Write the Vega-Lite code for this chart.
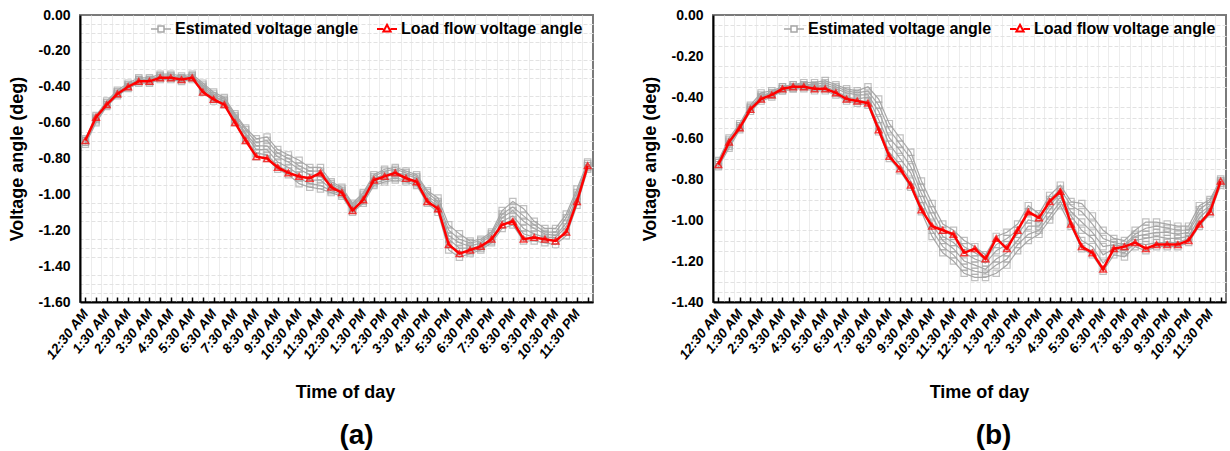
{
  "$schema": "https://vega.github.io/schema/vega-lite/v6.json",
  "background": "white",
  "padding": {"left": 7, "top": 7, "right": 2, "bottom": 2},
  "config": {
    "font": "Liberation Sans",
    "view": {"stroke": "#7a7a7a", "strokeWidth": 2},
    "axis": {"labelColor": "black", "titleColor": "black"},
    "legend": {
      "orient": "none",
      "legendX": 73,
      "legendY": 6,
      "direction": "horizontal",
      "title": null,
      "labelFontSize": 16,
      "labelFontWeight": "bold",
      "labelColor": "black",
      "labelLimit": 400,
      "symbolSize": 400,
      "columnPadding": 14,
      "labelOffset": 6
    }
  },
  "datasets": {
    "a_lf": [
      {"h":0.5,"v":-0.70},{"h":1,"v":-0.57},{"h":1.5,"v":-0.50},{"h":2,"v":-0.44},{"h":2.5,"v":-0.40},{"h":3,"v":-0.37},{"h":3.5,"v":-0.37},{"h":4,"v":-0.35},
      {"h":4.5,"v":-0.35},{"h":5,"v":-0.36},{"h":5.5,"v":-0.35},{"h":6,"v":-0.43},{"h":6.5,"v":-0.47},{"h":7,"v":-0.50},{"h":7.5,"v":-0.60},{"h":8,"v":-0.70},
      {"h":8.5,"v":-0.79},{"h":9,"v":-0.80},{"h":9.5,"v":-0.85},{"h":10,"v":-0.88},{"h":10.5,"v":-0.90},{"h":11,"v":-0.91},{"h":11.5,"v":-0.88},{"h":12,"v":-0.96},
      {"h":12.5,"v":-0.99},{"h":13,"v":-1.09},{"h":13.5,"v":-1.03},{"h":14,"v":-0.92},{"h":14.5,"v":-0.90},{"h":15,"v":-0.88},{"h":15.5,"v":-0.91},{"h":16,"v":-0.93},
      {"h":16.5,"v":-1.04},{"h":17,"v":-1.08},{"h":17.5,"v":-1.28},{"h":18,"v":-1.33},{"h":18.5,"v":-1.31},{"h":19,"v":-1.29},{"h":19.5,"v":-1.25},{"h":20,"v":-1.17},
      {"h":20.5,"v":-1.15},{"h":21,"v":-1.25},{"h":21.5,"v":-1.24},{"h":22,"v":-1.25},{"h":22.5,"v":-1.26},{"h":23,"v":-1.21},{"h":23.5,"v":-1.04},{"h":24,"v":-0.84}
    ],
    "a_est": [
      {"h":0.5,"s":1,"v":-0.72},{"h":1,"s":1,"v":-0.60},{"h":1.5,"s":1,"v":-0.51},{"h":2,"s":1,"v":-0.45},{"h":2.5,"s":1,"v":-0.41},{"h":3,"s":1,"v":-0.38},{"h":3.5,"s":1,"v":-0.38},{"h":4,"s":1,"v":-0.36},
      {"h":4.5,"s":1,"v":-0.36},{"h":5,"s":1,"v":-0.37},{"h":5.5,"s":1,"v":-0.36},{"h":6,"s":1,"v":-0.43},{"h":6.5,"s":1,"v":-0.48},{"h":7,"s":1,"v":-0.50},{"h":7.5,"s":1,"v":-0.60},{"h":8,"s":1,"v":-0.70},
      {"h":8.5,"s":1,"v":-0.79},{"h":9,"s":1,"v":-0.80},{"h":9.5,"s":1,"v":-0.86},{"h":10,"s":1,"v":-0.89},{"h":10.5,"s":1,"v":-0.94},{"h":11,"s":1,"v":-0.96},{"h":11.5,"s":1,"v":-0.97},{"h":12,"s":1,"v":-0.99},
      {"h":12.5,"s":1,"v":-1.01},{"h":13,"s":1,"v":-1.10},{"h":13.5,"s":1,"v":-1.05},{"h":14,"s":1,"v":-0.95},{"h":14.5,"s":1,"v":-0.93},{"h":15,"s":1,"v":-0.92},{"h":15.5,"s":1,"v":-0.93},{"h":16,"s":1,"v":-0.95},
      {"h":16.5,"s":1,"v":-1.05},{"h":17,"s":1,"v":-1.10},{"h":17.5,"s":1,"v":-1.31},{"h":18,"s":1,"v":-1.35},{"h":18.5,"s":1,"v":-1.33},{"h":19,"s":1,"v":-1.31},{"h":19.5,"s":1,"v":-1.27},{"h":20,"s":1,"v":-1.19},
      {"h":20.5,"s":1,"v":-1.17},{"h":21,"s":1,"v":-1.26},{"h":21.5,"s":1,"v":-1.26},{"h":22,"s":1,"v":-1.27},{"h":22.5,"s":1,"v":-1.28},{"h":23,"s":1,"v":-1.23},{"h":23.5,"s":1,"v":-1.06},{"h":24,"s":1,"v":-0.86},

      {"h":0.5,"s":2,"v":-0.71},{"h":1,"s":2,"v":-0.59},{"h":1.5,"s":2,"v":-0.50},{"h":2,"s":2,"v":-0.44},{"h":2.5,"s":2,"v":-0.40},{"h":3,"s":2,"v":-0.37},{"h":3.5,"s":2,"v":-0.37},{"h":4,"s":2,"v":-0.35},
      {"h":4.5,"s":2,"v":-0.35},{"h":5,"s":2,"v":-0.36},{"h":5.5,"s":2,"v":-0.35},{"h":6,"s":2,"v":-0.42},{"h":6.5,"s":2,"v":-0.47},{"h":7,"s":2,"v":-0.49},{"h":7.5,"s":2,"v":-0.59},{"h":8,"s":2,"v":-0.69},
      {"h":8.5,"s":2,"v":-0.77},{"h":9,"s":2,"v":-0.78},{"h":9.5,"s":2,"v":-0.84},{"h":10,"s":2,"v":-0.87},{"h":10.5,"s":2,"v":-0.91},{"h":11,"s":2,"v":-0.94},{"h":11.5,"s":2,"v":-0.95},{"h":12,"s":2,"v":-0.98},
      {"h":12.5,"s":2,"v":-1.00},{"h":13,"s":2,"v":-1.09},{"h":13.5,"s":2,"v":-1.04},{"h":14,"s":2,"v":-0.94},{"h":14.5,"s":2,"v":-0.92},{"h":15,"s":2,"v":-0.91},{"h":15.5,"s":2,"v":-0.92},{"h":16,"s":2,"v":-0.94},
      {"h":16.5,"s":2,"v":-1.04},{"h":17,"s":2,"v":-1.08},{"h":17.5,"s":2,"v":-1.28},{"h":18,"s":2,"v":-1.32},{"h":18.5,"s":2,"v":-1.32},{"h":19,"s":2,"v":-1.30},{"h":19.5,"s":2,"v":-1.26},{"h":20,"s":2,"v":-1.17},
      {"h":20.5,"s":2,"v":-1.14},{"h":21,"s":2,"v":-1.22},{"h":21.5,"s":2,"v":-1.24},{"h":22,"s":2,"v":-1.25},{"h":22.5,"s":2,"v":-1.26},{"h":23,"s":2,"v":-1.21},{"h":23.5,"s":2,"v":-1.04},{"h":24,"s":2,"v":-0.85},

      {"h":0.5,"s":3,"v":-0.71},{"h":1,"s":3,"v":-0.58},{"h":1.5,"s":3,"v":-0.50},{"h":2,"s":3,"v":-0.44},{"h":2.5,"s":3,"v":-0.40},{"h":3,"s":3,"v":-0.37},{"h":3.5,"s":3,"v":-0.37},{"h":4,"s":3,"v":-0.35},
      {"h":4.5,"s":3,"v":-0.35},{"h":5,"s":3,"v":-0.36},{"h":5.5,"s":3,"v":-0.35},{"h":6,"s":3,"v":-0.41},{"h":6.5,"s":3,"v":-0.46},{"h":7,"s":3,"v":-0.48},{"h":7.5,"s":3,"v":-0.58},{"h":8,"s":3,"v":-0.67},
      {"h":8.5,"s":3,"v":-0.75},{"h":9,"s":3,"v":-0.75},{"h":9.5,"s":3,"v":-0.82},{"h":10,"s":3,"v":-0.85},{"h":10.5,"s":3,"v":-0.89},{"h":11,"s":3,"v":-0.92},{"h":11.5,"s":3,"v":-0.92},{"h":12,"s":3,"v":-0.97},
      {"h":12.5,"s":3,"v":-0.99},{"h":13,"s":3,"v":-1.08},{"h":13.5,"s":3,"v":-1.03},{"h":14,"s":3,"v":-0.93},{"h":14.5,"s":3,"v":-0.90},{"h":15,"s":3,"v":-0.89},{"h":15.5,"s":3,"v":-0.91},{"h":16,"s":3,"v":-0.93},
      {"h":16.5,"s":3,"v":-1.02},{"h":17,"s":3,"v":-1.07},{"h":17.5,"s":3,"v":-1.25},{"h":18,"s":3,"v":-1.30},{"h":18.5,"s":3,"v":-1.30},{"h":19,"s":3,"v":-1.29},{"h":19.5,"s":3,"v":-1.25},{"h":20,"s":3,"v":-1.15},
      {"h":20.5,"s":3,"v":-1.12},{"h":21,"s":3,"v":-1.19},{"h":21.5,"s":3,"v":-1.22},{"h":22,"s":3,"v":-1.24},{"h":22.5,"s":3,"v":-1.24},{"h":23,"s":3,"v":-1.18},{"h":23.5,"s":3,"v":-1.02},{"h":24,"s":3,"v":-0.84},

      {"h":0.5,"s":4,"v":-0.70},{"h":1,"s":4,"v":-0.58},{"h":1.5,"s":4,"v":-0.49},{"h":2,"s":4,"v":-0.43},{"h":2.5,"s":4,"v":-0.39},{"h":3,"s":4,"v":-0.36},{"h":3.5,"s":4,"v":-0.36},{"h":4,"s":4,"v":-0.34},
      {"h":4.5,"s":4,"v":-0.34},{"h":5,"s":4,"v":-0.35},{"h":5.5,"s":4,"v":-0.34},{"h":6,"s":4,"v":-0.40},{"h":6.5,"s":4,"v":-0.45},{"h":7,"s":4,"v":-0.48},{"h":7.5,"s":4,"v":-0.57},{"h":8,"s":4,"v":-0.66},
      {"h":8.5,"s":4,"v":-0.73},{"h":9,"s":4,"v":-0.73},{"h":9.5,"s":4,"v":-0.79},{"h":10,"s":4,"v":-0.82},{"h":10.5,"s":4,"v":-0.86},{"h":11,"s":4,"v":-0.89},{"h":11.5,"s":4,"v":-0.90},{"h":12,"s":4,"v":-0.95},
      {"h":12.5,"s":4,"v":-0.98},{"h":13,"s":4,"v":-1.07},{"h":13.5,"s":4,"v":-1.01},{"h":14,"s":4,"v":-0.91},{"h":14.5,"s":4,"v":-0.89},{"h":15,"s":4,"v":-0.88},{"h":15.5,"s":4,"v":-0.89},{"h":16,"s":4,"v":-0.91},
      {"h":16.5,"s":4,"v":-1.01},{"h":17,"s":4,"v":-1.05},{"h":17.5,"s":4,"v":-1.23},{"h":18,"s":4,"v":-1.27},{"h":18.5,"s":4,"v":-1.29},{"h":19,"s":4,"v":-1.27},{"h":19.5,"s":4,"v":-1.23},{"h":20,"s":4,"v":-1.13},
      {"h":20.5,"s":4,"v":-1.09},{"h":21,"s":4,"v":-1.15},{"h":21.5,"s":4,"v":-1.19},{"h":22,"s":4,"v":-1.22},{"h":22.5,"s":4,"v":-1.23},{"h":23,"s":4,"v":-1.16},{"h":23.5,"s":4,"v":-1.01},{"h":24,"s":4,"v":-0.84},

      {"h":0.5,"s":5,"v":-0.70},{"h":1,"s":5,"v":-0.57},{"h":1.5,"s":5,"v":-0.49},{"h":2,"s":5,"v":-0.43},{"h":2.5,"s":5,"v":-0.39},{"h":3,"s":5,"v":-0.36},{"h":3.5,"s":5,"v":-0.36},{"h":4,"s":5,"v":-0.34},
      {"h":4.5,"s":5,"v":-0.34},{"h":5,"s":5,"v":-0.35},{"h":5.5,"s":5,"v":-0.34},{"h":6,"s":5,"v":-0.39},{"h":6.5,"s":5,"v":-0.44},{"h":7,"s":5,"v":-0.47},{"h":7.5,"s":5,"v":-0.56},{"h":8,"s":5,"v":-0.64},
      {"h":8.5,"s":5,"v":-0.71},{"h":9,"s":5,"v":-0.70},{"h":9.5,"s":5,"v":-0.77},{"h":10,"s":5,"v":-0.80},{"h":10.5,"s":5,"v":-0.84},{"h":11,"s":5,"v":-0.87},{"h":11.5,"s":5,"v":-0.87},{"h":12,"s":5,"v":-0.94},
      {"h":12.5,"s":5,"v":-0.97},{"h":13,"s":5,"v":-1.06},{"h":13.5,"s":5,"v":-1.00},{"h":14,"s":5,"v":-0.90},{"h":14.5,"s":5,"v":-0.87},{"h":15,"s":5,"v":-0.86},{"h":15.5,"s":5,"v":-0.88},{"h":16,"s":5,"v":-0.90},
      {"h":16.5,"s":5,"v":-0.99},{"h":17,"s":5,"v":-1.04},{"h":17.5,"s":5,"v":-1.20},{"h":18,"s":5,"v":-1.25},{"h":18.5,"s":5,"v":-1.27},{"h":19,"s":5,"v":-1.26},{"h":19.5,"s":5,"v":-1.22},{"h":20,"s":5,"v":-1.11},
      {"h":20.5,"s":5,"v":-1.07},{"h":21,"s":5,"v":-1.12},{"h":21.5,"s":5,"v":-1.17},{"h":22,"s":5,"v":-1.21},{"h":22.5,"s":5,"v":-1.21},{"h":23,"s":5,"v":-1.13},{"h":23.5,"s":5,"v":-0.99},{"h":24,"s":5,"v":-0.83},

      {"h":0.5,"s":6,"v":-0.69},{"h":1,"s":6,"v":-0.56},{"h":1.5,"s":6,"v":-0.48},{"h":2,"s":6,"v":-0.42},{"h":2.5,"s":6,"v":-0.38},{"h":3,"s":6,"v":-0.35},{"h":3.5,"s":6,"v":-0.35},{"h":4,"s":6,"v":-0.33},
      {"h":4.5,"s":6,"v":-0.33},{"h":5,"s":6,"v":-0.34},{"h":5.5,"s":6,"v":-0.33},{"h":6,"s":6,"v":-0.38},{"h":6.5,"s":6,"v":-0.43},{"h":7,"s":6,"v":-0.46},{"h":7.5,"s":6,"v":-0.55},{"h":8,"s":6,"v":-0.63},
      {"h":8.5,"s":6,"v":-0.69},{"h":9,"s":6,"v":-0.68},{"h":9.5,"s":6,"v":-0.75},{"h":10,"s":6,"v":-0.78},{"h":10.5,"s":6,"v":-0.81},{"h":11,"s":6,"v":-0.85},{"h":11.5,"s":6,"v":-0.85},{"h":12,"s":6,"v":-0.93},
      {"h":12.5,"s":6,"v":-0.96},{"h":13,"s":6,"v":-1.05},{"h":13.5,"s":6,"v":-0.99},{"h":14,"s":6,"v":-0.89},{"h":14.5,"s":6,"v":-0.86},{"h":15,"s":6,"v":-0.85},{"h":15.5,"s":6,"v":-0.87},{"h":16,"s":6,"v":-0.89},
      {"h":16.5,"s":6,"v":-0.98},{"h":17,"s":6,"v":-1.02},{"h":17.5,"s":6,"v":-1.17},{"h":18,"s":6,"v":-1.22},{"h":18.5,"s":6,"v":-1.26},{"h":19,"s":6,"v":-1.25},{"h":19.5,"s":6,"v":-1.21},{"h":20,"s":6,"v":-1.09},
      {"h":20.5,"s":6,"v":-1.04},{"h":21,"s":6,"v":-1.08},{"h":21.5,"s":6,"v":-1.15},{"h":22,"s":6,"v":-1.19},{"h":22.5,"s":6,"v":-1.19},{"h":23,"s":6,"v":-1.11},{"h":23.5,"s":6,"v":-0.97},{"h":24,"s":6,"v":-0.82}
    ],
    "b_lf": [
      {"h":0.5,"v":-0.73},{"h":1,"v":-0.62},{"h":1.5,"v":-0.55},{"h":2,"v":-0.46},{"h":2.5,"v":-0.41},{"h":3,"v":-0.39},{"h":3.5,"v":-0.36},{"h":4,"v":-0.35},
      {"h":4.5,"v":-0.35},{"h":5,"v":-0.36},{"h":5.5,"v":-0.36},{"h":6,"v":-0.38},{"h":6.5,"v":-0.41},{"h":7,"v":-0.42},{"h":7.5,"v":-0.43},{"h":8,"v":-0.56},
      {"h":8.5,"v":-0.69},{"h":9,"v":-0.75},{"h":9.5,"v":-0.83},{"h":10,"v":-0.95},{"h":10.5,"v":-1.03},{"h":11,"v":-1.05},{"h":11.5,"v":-1.07},{"h":12,"v":-1.16},
      {"h":12.5,"v":-1.14},{"h":13,"v":-1.19},{"h":13.5,"v":-1.09},{"h":14,"v":-1.14},{"h":14.5,"v":-1.05},{"h":15,"v":-0.96},{"h":15.5,"v":-0.99},{"h":16,"v":-0.91},
      {"h":16.5,"v":-0.86},{"h":17,"v":-1.02},{"h":17.5,"v":-1.13},{"h":18,"v":-1.16},{"h":18.5,"v":-1.24},{"h":19,"v":-1.14},{"h":19.5,"v":-1.13},{"h":20,"v":-1.11},
      {"h":20.5,"v":-1.14},{"h":21,"v":-1.12},{"h":21.5,"v":-1.12},{"h":22,"v":-1.12},{"h":22.5,"v":-1.10},{"h":23,"v":-1.02},{"h":23.5,"v":-0.96},{"h":24,"v":-0.81}
    ],
    "b_est": [
      {"h":0.5,"s":1,"v":-0.74},{"h":1,"s":1,"v":-0.65},{"h":1.5,"s":1,"v":-0.56},{"h":2,"s":1,"v":-0.47},{"h":2.5,"s":1,"v":-0.42},{"h":3,"s":1,"v":-0.40},{"h":3.5,"s":1,"v":-0.37},{"h":4,"s":1,"v":-0.36},
      {"h":4.5,"s":1,"v":-0.36},{"h":5,"s":1,"v":-0.37},{"h":5.5,"s":1,"v":-0.37},{"h":6,"s":1,"v":-0.39},{"h":6.5,"s":1,"v":-0.42},{"h":7,"s":1,"v":-0.43},{"h":7.5,"s":1,"v":-0.44},{"h":8,"s":1,"v":-0.57},
      {"h":8.5,"s":1,"v":-0.70},{"h":9,"s":1,"v":-0.76},{"h":9.5,"s":1,"v":-0.84},{"h":10,"s":1,"v":-0.96},{"h":10.5,"s":1,"v":-1.08},{"h":11,"s":1,"v":-1.16},{"h":11.5,"s":1,"v":-1.20},{"h":12,"s":1,"v":-1.26},
      {"h":12.5,"s":1,"v":-1.28},{"h":13,"s":1,"v":-1.28},{"h":13.5,"s":1,"v":-1.26},{"h":14,"s":1,"v":-1.22},{"h":14.5,"s":1,"v":-1.15},{"h":15,"s":1,"v":-1.10},{"h":15.5,"s":1,"v":-1.07},{"h":16,"s":1,"v":-1.00},
      {"h":16.5,"s":1,"v":-0.93},{"h":17,"s":1,"v":-1.03},{"h":17.5,"s":1,"v":-1.14},{"h":18,"s":1,"v":-1.17},{"h":18.5,"s":1,"v":-1.25},{"h":19,"s":1,"v":-1.17},{"h":19.5,"s":1,"v":-1.18},{"h":20,"s":1,"v":-1.13},
      {"h":20.5,"s":1,"v":-1.15},{"h":21,"s":1,"v":-1.13},{"h":21.5,"s":1,"v":-1.13},{"h":22,"s":1,"v":-1.13},{"h":22.5,"s":1,"v":-1.11},{"h":23,"s":1,"v":-1.03},{"h":23.5,"s":1,"v":-0.97},{"h":24,"s":1,"v":-0.83},

      {"h":0.5,"s":2,"v":-0.73},{"h":1,"s":2,"v":-0.64},{"h":1.5,"s":2,"v":-0.55},{"h":2,"s":2,"v":-0.46},{"h":2.5,"s":2,"v":-0.41},{"h":3,"s":2,"v":-0.39},{"h":3.5,"s":2,"v":-0.37},{"h":4,"s":2,"v":-0.36},
      {"h":4.5,"s":2,"v":-0.35},{"h":5,"s":2,"v":-0.36},{"h":5.5,"s":2,"v":-0.36},{"h":6,"s":2,"v":-0.38},{"h":6.5,"s":2,"v":-0.41},{"h":7,"s":2,"v":-0.42},{"h":7.5,"s":2,"v":-0.42},{"h":8,"s":2,"v":-0.54},
      {"h":8.5,"s":2,"v":-0.67},{"h":9,"s":2,"v":-0.73},{"h":9.5,"s":2,"v":-0.81},{"h":10,"s":2,"v":-0.93},{"h":10.5,"s":2,"v":-1.05},{"h":11,"s":2,"v":-1.13},{"h":11.5,"s":2,"v":-1.17},{"h":12,"s":2,"v":-1.23},
      {"h":12.5,"s":2,"v":-1.25},{"h":13,"s":2,"v":-1.26},{"h":13.5,"s":2,"v":-1.22},{"h":14,"s":2,"v":-1.19},{"h":14.5,"s":2,"v":-1.12},{"h":15,"s":2,"v":-1.07},{"h":15.5,"s":2,"v":-1.05},{"h":16,"s":2,"v":-0.98},
      {"h":16.5,"s":2,"v":-0.91},{"h":17,"s":2,"v":-1.01},{"h":17.5,"s":2,"v":-1.10},{"h":18,"s":2,"v":-1.13},{"h":18.5,"s":2,"v":-1.21},{"h":19,"s":2,"v":-1.15},{"h":19.5,"s":2,"v":-1.16},{"h":20,"s":2,"v":-1.11},
      {"h":20.5,"s":2,"v":-1.12},{"h":21,"s":2,"v":-1.11},{"h":21.5,"s":2,"v":-1.11},{"h":22,"s":2,"v":-1.11},{"h":22.5,"s":2,"v":-1.09},{"h":23,"s":2,"v":-1.01},{"h":23.5,"s":2,"v":-0.96},{"h":24,"s":2,"v":-0.82},

      {"h":0.5,"s":3,"v":-0.73},{"h":1,"s":3,"v":-0.63},{"h":1.5,"s":3,"v":-0.55},{"h":2,"s":3,"v":-0.46},{"h":2.5,"s":3,"v":-0.40},{"h":3,"s":3,"v":-0.39},{"h":3.5,"s":3,"v":-0.36},{"h":4,"s":3,"v":-0.35},
      {"h":4.5,"s":3,"v":-0.35},{"h":5,"s":3,"v":-0.35},{"h":5.5,"s":3,"v":-0.35},{"h":6,"s":3,"v":-0.37},{"h":6.5,"s":3,"v":-0.40},{"h":7,"s":3,"v":-0.41},{"h":7.5,"s":3,"v":-0.40},{"h":8,"s":3,"v":-0.51},
      {"h":8.5,"s":3,"v":-0.63},{"h":9,"s":3,"v":-0.70},{"h":9.5,"s":3,"v":-0.77},{"h":10,"s":3,"v":-0.90},{"h":10.5,"s":3,"v":-1.02},{"h":11,"s":3,"v":-1.10},{"h":11.5,"s":3,"v":-1.14},{"h":12,"s":3,"v":-1.20},
      {"h":12.5,"s":3,"v":-1.22},{"h":13,"s":3,"v":-1.24},{"h":13.5,"s":3,"v":-1.19},{"h":14,"s":3,"v":-1.16},{"h":14.5,"s":3,"v":-1.10},{"h":15,"s":3,"v":-1.03},{"h":15.5,"s":3,"v":-1.03},{"h":16,"s":3,"v":-0.95},
      {"h":16.5,"s":3,"v":-0.89},{"h":17,"s":3,"v":-0.98},{"h":17.5,"s":3,"v":-1.05},{"h":18,"s":3,"v":-1.09},{"h":18.5,"s":3,"v":-1.17},{"h":19,"s":3,"v":-1.14},{"h":19.5,"s":3,"v":-1.15},{"h":20,"s":3,"v":-1.10},
      {"h":20.5,"s":3,"v":-1.09},{"h":21,"s":3,"v":-1.08},{"h":21.5,"s":3,"v":-1.09},{"h":22,"s":3,"v":-1.09},{"h":22.5,"s":3,"v":-1.08},{"h":23,"s":3,"v":-0.99},{"h":23.5,"s":3,"v":-0.94},{"h":24,"s":3,"v":-0.82},

      {"h":0.5,"s":4,"v":-0.72},{"h":1,"s":4,"v":-0.62},{"h":1.5,"s":4,"v":-0.54},{"h":2,"s":4,"v":-0.45},{"h":2.5,"s":4,"v":-0.40},{"h":3,"s":4,"v":-0.38},{"h":3.5,"s":4,"v":-0.36},{"h":4,"s":4,"v":-0.35},
      {"h":4.5,"s":4,"v":-0.34},{"h":5,"s":4,"v":-0.35},{"h":5.5,"s":4,"v":-0.34},{"h":6,"s":4,"v":-0.36},{"h":6.5,"s":4,"v":-0.38},{"h":7,"s":4,"v":-0.39},{"h":7.5,"s":4,"v":-0.39},{"h":8,"s":4,"v":-0.47},
      {"h":8.5,"s":4,"v":-0.60},{"h":9,"s":4,"v":-0.66},{"h":9.5,"s":4,"v":-0.74},{"h":10,"s":4,"v":-0.87},{"h":10.5,"s":4,"v":-0.98},{"h":11,"s":4,"v":-1.08},{"h":11.5,"s":4,"v":-1.11},{"h":12,"s":4,"v":-1.16},
      {"h":12.5,"s":4,"v":-1.19},{"h":13,"s":4,"v":-1.21},{"h":13.5,"s":4,"v":-1.15},{"h":14,"s":4,"v":-1.12},{"h":14.5,"s":4,"v":-1.07},{"h":15,"s":4,"v":-1.00},{"h":15.5,"s":4,"v":-1.01},{"h":16,"s":4,"v":-0.93},
      {"h":16.5,"s":4,"v":-0.87},{"h":17,"s":4,"v":-0.96},{"h":17.5,"s":4,"v":-1.01},{"h":18,"s":4,"v":-1.06},{"h":18.5,"s":4,"v":-1.13},{"h":19,"s":4,"v":-1.12},{"h":19.5,"s":4,"v":-1.13},{"h":20,"s":4,"v":-1.08},
      {"h":20.5,"s":4,"v":-1.07},{"h":21,"s":4,"v":-1.06},{"h":21.5,"s":4,"v":-1.06},{"h":22,"s":4,"v":-1.07},{"h":22.5,"s":4,"v":-1.06},{"h":23,"s":4,"v":-0.97},{"h":23.5,"s":4,"v":-0.93},{"h":24,"s":4,"v":-0.81},

      {"h":0.5,"s":5,"v":-0.72},{"h":1,"s":5,"v":-0.61},{"h":1.5,"s":5,"v":-0.54},{"h":2,"s":5,"v":-0.45},{"h":2.5,"s":5,"v":-0.39},{"h":3,"s":5,"v":-0.38},{"h":3.5,"s":5,"v":-0.35},{"h":4,"s":5,"v":-0.34},
      {"h":4.5,"s":5,"v":-0.34},{"h":5,"s":5,"v":-0.34},{"h":5.5,"s":5,"v":-0.33},{"h":6,"s":5,"v":-0.35},{"h":6.5,"s":5,"v":-0.37},{"h":7,"s":5,"v":-0.38},{"h":7.5,"s":5,"v":-0.37},{"h":8,"s":5,"v":-0.44},
      {"h":8.5,"s":5,"v":-0.56},{"h":9,"s":5,"v":-0.63},{"h":9.5,"s":5,"v":-0.70},{"h":10,"s":5,"v":-0.84},{"h":10.5,"s":5,"v":-0.95},{"h":11,"s":5,"v":-1.05},{"h":11.5,"s":5,"v":-1.08},{"h":12,"s":5,"v":-1.13},
      {"h":12.5,"s":5,"v":-1.16},{"h":13,"s":5,"v":-1.19},{"h":13.5,"s":5,"v":-1.12},{"h":14,"s":5,"v":-1.09},{"h":14.5,"s":5,"v":-1.05},{"h":15,"s":5,"v":-0.96},{"h":15.5,"s":5,"v":-0.99},{"h":16,"s":5,"v":-0.90},
      {"h":16.5,"s":5,"v":-0.85},{"h":17,"s":5,"v":-0.93},{"h":17.5,"s":5,"v":-0.96},{"h":18,"s":5,"v":-1.02},{"h":18.5,"s":5,"v":-1.09},{"h":19,"s":5,"v":-1.11},{"h":19.5,"s":5,"v":-1.12},{"h":20,"s":5,"v":-1.07},
      {"h":20.5,"s":5,"v":-1.04},{"h":21,"s":5,"v":-1.03},{"h":21.5,"s":5,"v":-1.04},{"h":22,"s":5,"v":-1.05},{"h":22.5,"s":5,"v":-1.05},{"h":23,"s":5,"v":-0.95},{"h":23.5,"s":5,"v":-0.91},{"h":24,"s":5,"v":-0.81},

      {"h":0.5,"s":6,"v":-0.71},{"h":1,"s":6,"v":-0.60},{"h":1.5,"s":6,"v":-0.53},{"h":2,"s":6,"v":-0.44},{"h":2.5,"s":6,"v":-0.38},{"h":3,"s":6,"v":-0.37},{"h":3.5,"s":6,"v":-0.35},{"h":4,"s":6,"v":-0.34},
      {"h":4.5,"s":6,"v":-0.33},{"h":5,"s":6,"v":-0.33},{"h":5.5,"s":6,"v":-0.32},{"h":6,"s":6,"v":-0.34},{"h":6.5,"s":6,"v":-0.36},{"h":7,"s":6,"v":-0.37},{"h":7.5,"s":6,"v":-0.35},{"h":8,"s":6,"v":-0.41},
      {"h":8.5,"s":6,"v":-0.53},{"h":9,"s":6,"v":-0.60},{"h":9.5,"s":6,"v":-0.67},{"h":10,"s":6,"v":-0.81},{"h":10.5,"s":6,"v":-0.92},{"h":11,"s":6,"v":-1.02},{"h":11.5,"s":6,"v":-1.05},{"h":12,"s":6,"v":-1.10},
      {"h":12.5,"s":6,"v":-1.13},{"h":13,"s":6,"v":-1.17},{"h":13.5,"s":6,"v":-1.08},{"h":14,"s":6,"v":-1.06},{"h":14.5,"s":6,"v":-1.02},{"h":15,"s":6,"v":-0.93},{"h":15.5,"s":6,"v":-0.97},{"h":16,"s":6,"v":-0.88},
      {"h":16.5,"s":6,"v":-0.83},{"h":17,"s":6,"v":-0.91},{"h":17.5,"s":6,"v":-0.92},{"h":18,"s":6,"v":-0.98},{"h":18.5,"s":6,"v":-1.05},{"h":19,"s":6,"v":-1.09},{"h":19.5,"s":6,"v":-1.10},{"h":20,"s":6,"v":-1.05},
      {"h":20.5,"s":6,"v":-1.01},{"h":21,"s":6,"v":-1.01},{"h":21.5,"s":6,"v":-1.02},{"h":22,"s":6,"v":-1.03},{"h":22.5,"s":6,"v":-1.03},{"h":23,"s":6,"v":-0.93},{"h":23.5,"s":6,"v":-0.90},{"h":24,"s":6,"v":-0.80}
    ]
  },
  "hconcat": [
    {
      "width": 513,
      "height": 287,
      "title": {"text": "(a)", "orient": "bottom", "anchor": "middle", "frame": "group", "fontSize": 28, "fontWeight": "bold", "dx": 20, "offset": 20},
      "layer": [
        {
          "data": {"name": "a_est"},
          "mark": {"type": "line", "strokeWidth": 1.2},
          "encoding": {
            "x": {"field": "h", "type": "quantitative", "scale": {"domain": [0.25, 24.25], "nice": false, "zero": false},
              "axis": {"orient": "top", "values": [0.75,1.25,1.75,2.25,2.75,3.25,3.75,4.25,4.75,5.25,5.75,6.25,6.75,7.25,7.75,8.25,8.75,9.25,9.75,10.25,10.75,11.25,11.75,12.25,12.75,13.25,13.75,14.25,14.75,15.25,15.75,16.25,16.75,17.25,17.75,18.25,18.75,19.25,19.75,20.25,20.75,21.25,21.75,22.25,22.75,23.25,23.75], "labels": false, "ticks": false, "domain": false, "title": null, "gridColor": "#ececec", "gridWidth": 1}},
            "y": {"field": "v", "type": "quantitative", "scale": {"domain": [-1.6, 0], "nice": false, "zero": false},
              "axis": {"orient": "right", "values": [-1.55,-1.5,-1.45,-1.35,-1.3,-1.25,-1.15,-1.1,-1.05,-0.95,-0.9,-0.85,-0.75,-0.7,-0.65,-0.55,-0.5,-0.45,-0.35,-0.3,-0.25,-0.15,-0.1,-0.05], "labels": false, "ticks": false, "domain": false, "title": null, "gridColor": "#e2e2e2", "gridDash": [4, 2]}},
            "detail": {"field": "s"},
            "color": {"datum": "Estimated voltage angle",
              "scale": {"domain": ["Estimated voltage angle", "Load flow voltage angle"], "range": ["#a6a6a6", "#ff0000"]},
              "legend": {"encode": {"symbols": {"update": {
                "shape": {"signal": "datum.value === 'Load flow voltage angle' ? 'M-1,0H-0.36M0.36,0H1M0,-0.42L0.36,0.24H-0.36Z' : 'M-1,0H-0.3M0.3,0H1M-0.3,-0.3H0.3V0.3H-0.3Z'"},
                "strokeWidth": {"signal": "datum.value === 'Load flow voltage angle' ? 2 : 1.5"},
                "fill": {"value": "transparent"}}}}}}
          }
        },
        {
          "data": {"name": "a_est"},
          "mark": {"type": "point", "shape": "square", "filled": false, "size": 40, "strokeWidth": 1.2},
          "encoding": {
            "x": {"field": "h", "type": "quantitative", "axis": null},
            "y": {"field": "v", "type": "quantitative", "axis": null},
            "detail": {"field": "s"},
            "color": {"datum": "Estimated voltage angle"}
          }
        },
        {
          "data": {"name": "a_lf"},
          "mark": {"type": "line", "strokeWidth": 2.5},
          "encoding": {
            "x": {"field": "h", "type": "quantitative", "scale": {"domain": [0.25, 24.25], "nice": false, "zero": false},
              "axis": {"orient": "bottom", "values": [0.5,1,1.5,2,2.5,3,3.5,4,4.5,5,5.5,6,6.5,7,7.5,8,8.5,9,9.5,10,10.5,11,11.5,12,12.5,13,13.5,14,14.5,15,15.5,16,16.5,17,17.5,18,18.5,19,19.5,20,20.5,21,21.5,22,22.5,23,23.5,24],
                "labelExpr": "datum.value % 1 == 0.5 ? ((floor(datum.value) % 12 == 0 ? 12 : floor(datum.value) % 12) + ':30 ' + (datum.value < 12 ? 'AM' : 'PM')) : ''",
                "labelAngle": -52, "labelAlign": "right", "labelBaseline": "middle", "labelFontSize": 13.5, "labelFontWeight": "bold", "labelFontStyle": "italic", "labelPadding": 14, "labelOverlap": false, "labelFlush": false,
                "tickSize": -5, "tickColor": "black", "tickWidth": 1.5, "domainColor": "black", "domainWidth": 2, "gridColor": "#d4d4d4", "gridWidth": 1,
                "title": "Time of day", "titleFontSize": 18, "titleFontWeight": "bold", "titlePadding": 22, "titleX": 265}},
            "y": {"field": "v", "type": "quantitative", "scale": {"domain": [-1.6, 0], "nice": false, "zero": false},
              "axis": {"orient": "left", "values": [-1.6,-1.4,-1.2,-1.0,-0.8,-0.6,-0.4,-0.2,0],
                "labelExpr": "replace(format(datum.value, '.2f'), '\u2212', '-')", "labelFontSize": 14, "labelFontWeight": "bold", "labelPadding": 10, "ticks": false,
                "domainColor": "black", "domainWidth": 2, "gridColor": "#d4d4d4", "gridWidth": 1,
                "title": "Voltage angle (deg)", "titleFontSize": 18, "titleFontWeight": "bold", "titlePadding": 12}},
            "color": {"datum": "Load flow voltage angle"}
          }
        },
        {
          "data": {"name": "a_lf"},
          "mark": {"type": "point", "shape": "triangle-up", "filled": false, "size": 45, "strokeWidth": 1.5},
          "encoding": {
            "x": {"field": "h", "type": "quantitative", "axis": null},
            "y": {"field": "v", "type": "quantitative", "axis": null},
            "color": {"datum": "Load flow voltage angle"}
          }
        }
      ],
      "resolve": {"axis": {"x": "independent", "y": "independent"}}
    },
    {
      "width": 513,
      "height": 287,
      "title": {"text": "(b)", "orient": "bottom", "anchor": "middle", "frame": "group", "fontSize": 28, "fontWeight": "bold", "dx": 24, "offset": 20},
      "layer": [
        {
          "data": {"name": "b_est"},
          "mark": {"type": "line", "strokeWidth": 1.2},
          "encoding": {
            "x": {"field": "h", "type": "quantitative", "scale": {"domain": [0.25, 24.25], "nice": false, "zero": false},
              "axis": {"orient": "top", "values": [0.75,1.25,1.75,2.25,2.75,3.25,3.75,4.25,4.75,5.25,5.75,6.25,6.75,7.25,7.75,8.25,8.75,9.25,9.75,10.25,10.75,11.25,11.75,12.25,12.75,13.25,13.75,14.25,14.75,15.25,15.75,16.25,16.75,17.25,17.75,18.25,18.75,19.25,19.75,20.25,20.75,21.25,21.75,22.25,22.75,23.25,23.75], "labels": false, "ticks": false, "domain": false, "title": null, "gridColor": "#ececec", "gridWidth": 1}},
            "y": {"field": "v", "type": "quantitative", "scale": {"domain": [-1.4, 0], "nice": false, "zero": false},
              "axis": {"orient": "right", "values": [-1.35,-1.3,-1.25,-1.15,-1.1,-1.05,-0.95,-0.9,-0.85,-0.75,-0.7,-0.65,-0.55,-0.5,-0.45,-0.35,-0.3,-0.25,-0.15,-0.1,-0.05], "labels": false, "ticks": false, "domain": false, "title": null, "gridColor": "#e2e2e2", "gridDash": [4, 2]}},
            "detail": {"field": "s"},
            "color": {"datum": "Estimated voltage angle",
              "scale": {"domain": ["Estimated voltage angle", "Load flow voltage angle"], "range": ["#a6a6a6", "#ff0000"]},
              "legend": {"encode": {"symbols": {"update": {
                "shape": {"signal": "datum.value === 'Load flow voltage angle' ? 'M-1,0H-0.36M0.36,0H1M0,-0.42L0.36,0.24H-0.36Z' : 'M-1,0H-0.3M0.3,0H1M-0.3,-0.3H0.3V0.3H-0.3Z'"},
                "strokeWidth": {"signal": "datum.value === 'Load flow voltage angle' ? 2 : 1.5"},
                "fill": {"value": "transparent"}}}}}}
          }
        },
        {
          "data": {"name": "b_est"},
          "mark": {"type": "point", "shape": "square", "filled": false, "size": 40, "strokeWidth": 1.2},
          "encoding": {
            "x": {"field": "h", "type": "quantitative", "axis": null},
            "y": {"field": "v", "type": "quantitative", "axis": null},
            "detail": {"field": "s"},
            "color": {"datum": "Estimated voltage angle"}
          }
        },
        {
          "data": {"name": "b_lf"},
          "mark": {"type": "line", "strokeWidth": 2.5},
          "encoding": {
            "x": {"field": "h", "type": "quantitative", "scale": {"domain": [0.25, 24.25], "nice": false, "zero": false},
              "axis": {"orient": "bottom", "values": [0.5,1,1.5,2,2.5,3,3.5,4,4.5,5,5.5,6,6.5,7,7.5,8,8.5,9,9.5,10,10.5,11,11.5,12,12.5,13,13.5,14,14.5,15,15.5,16,16.5,17,17.5,18,18.5,19,19.5,20,20.5,21,21.5,22,22.5,23,23.5,24],
                "labelExpr": "datum.value % 1 == 0.5 ? ((floor(datum.value) % 12 == 0 ? 12 : floor(datum.value) % 12) + ':30 ' + (datum.value < 12 ? 'AM' : 'PM')) : ''",
                "labelAngle": -52, "labelAlign": "right", "labelBaseline": "middle", "labelFontSize": 13.5, "labelFontWeight": "bold", "labelFontStyle": "italic", "labelPadding": 14, "labelOverlap": false, "labelFlush": false,
                "tickSize": -5, "tickColor": "black", "tickWidth": 1.5, "domainColor": "black", "domainWidth": 2, "gridColor": "#d4d4d4", "gridWidth": 1,
                "title": "Time of day", "titleFontSize": 18, "titleFontWeight": "bold", "titlePadding": 22, "titleX": 266}},
            "y": {"field": "v", "type": "quantitative", "scale": {"domain": [-1.4, 0], "nice": false, "zero": false},
              "axis": {"orient": "left", "values": [-1.4,-1.2,-1.0,-0.8,-0.6,-0.4,-0.2,0],
                "labelExpr": "replace(format(datum.value, '.2f'), '\u2212', '-')", "labelFontSize": 14, "labelFontWeight": "bold", "labelPadding": 10, "ticks": false,
                "domainColor": "black", "domainWidth": 2, "gridColor": "#d4d4d4", "gridWidth": 1,
                "title": "Voltage angle (deg)", "titleFontSize": 18, "titleFontWeight": "bold", "titlePadding": 12}},
            "color": {"datum": "Load flow voltage angle"}
          }
        },
        {
          "data": {"name": "b_lf"},
          "mark": {"type": "point", "shape": "triangle-up", "filled": false, "size": 45, "strokeWidth": 1.5},
          "encoding": {
            "x": {"field": "h", "type": "quantitative", "axis": null},
            "y": {"field": "v", "type": "quantitative", "axis": null},
            "color": {"datum": "Load flow voltage angle"}
          }
        }
      ],
      "resolve": {"axis": {"x": "independent", "y": "independent"}}
    }
  ],
  "spacing": 44,
  "resolve": {"scale": {"color": "independent"}, "legend": {"color": "independent"}}
}
